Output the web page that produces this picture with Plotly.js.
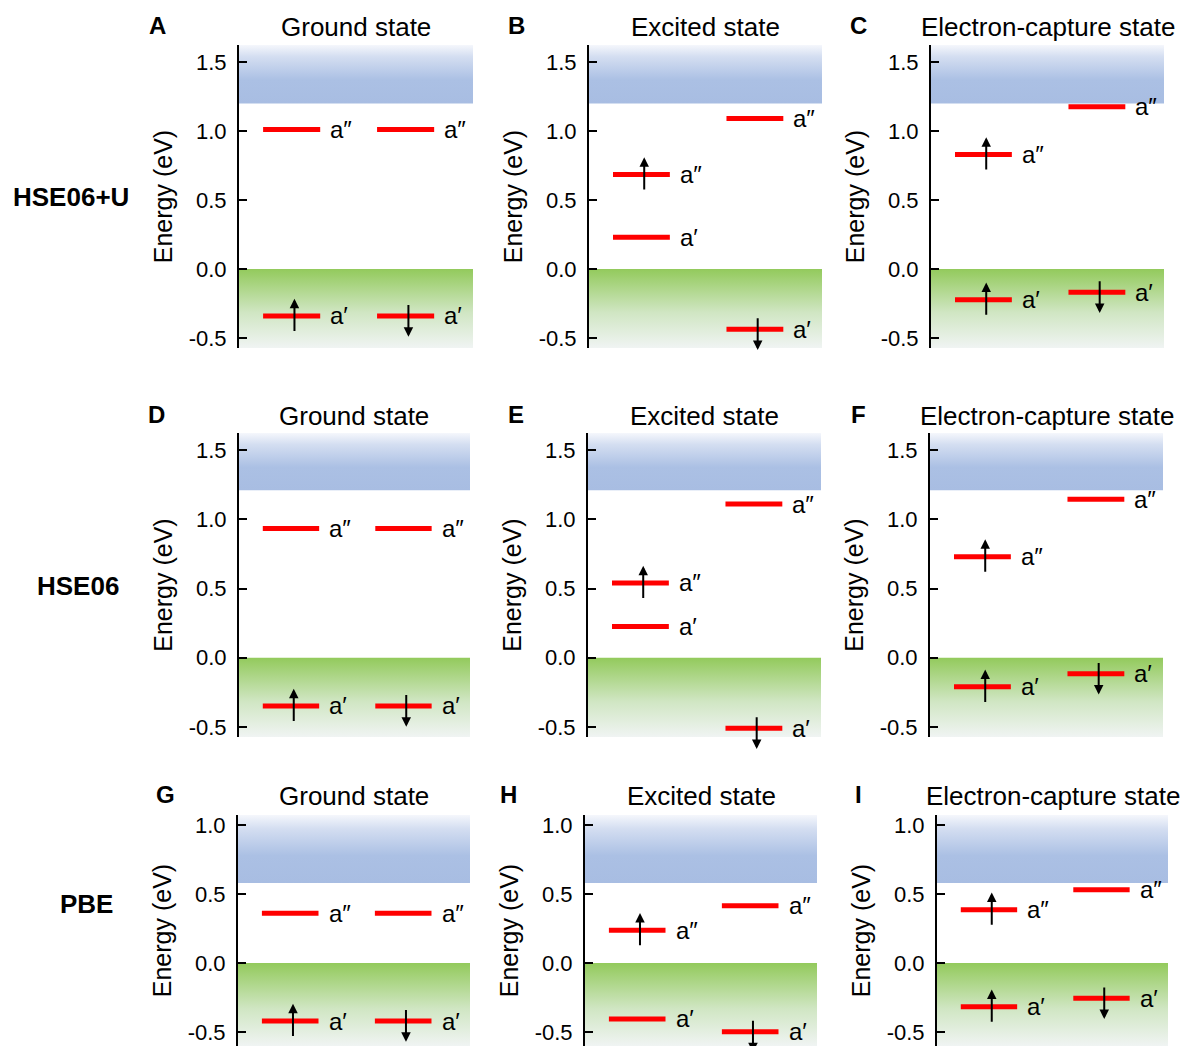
<!DOCTYPE html>
<html>
<head>
<meta charset="utf-8">
<script src="https://cdn.plot.ly/plotly-3.0.1.min.js"></script>
<style>html,body{margin:0;padding:0;background:#fff;}#chart{width:1186px;height:1046px;}</style>
</head>
<body>
<div id="chart"></div>
<script>
// ---------------- data ----------------
const methods = ['HSE06+U', 'HSE06', 'PBE'];
const stateTitles = ['Ground state', 'Excited state', 'Electron-capture state'];
const panelLetters = ['A', 'B', 'C', 'D', 'E', 'F', 'G', 'H', 'I'];

// band edges per method (eV): valence band maximum and conduction band minimum
const vbmEnergy = [0.0, 0.0, 0.0];
const cbmEnergy = [1.20, 1.21, 0.58];

// every panel shows four levels, in this order:
// spin-up channel a'', spin-up channel a', spin-down channel a'', spin-down channel a'
const levelChannel = [0, 0, 1, 1];           // 0 = spin up (left), 1 = spin down (right)
const levelLabel = ['a\u2033', 'a\u2032', 'a\u2033', 'a\u2032'];

// occupation of the four levels for each state
const occupiedGround = [0, 1, 0, 1];
const occupiedExcited = [1, 0, 0, 1];
const occupiedCapture = [1, 1, 0, 1];

// level energies (eV) per panel
const energyA = [1.01, -0.34, 1.01, -0.34];
const energyB = [0.685, 0.231, 1.09, -0.436];
const energyC = [0.83, -0.222, 1.176, -0.168];
const energyD = [0.933, -0.348, 0.933, -0.348];
const energyE = [0.54, 0.225, 1.11, -0.508];
const energyF = [0.73, -0.21, 1.145, -0.116];
const energyG = [0.36, -0.42, 0.36, -0.42];
const energyH = [0.238, -0.405, 0.415, -0.497];
const energyI = [0.386, -0.317, 0.53, -0.256];

// y tick labels
const tickValsHSE = [-0.5, 0, 0.5, 1.0, 1.5];
const tickTextHSE = ['-0.5', '0.0', '0.5', '1.0', '1.5'];
const tickValsPBE = [-0.5, 0, 0.5, 1.0];
const tickTextPBE = ['-0.5', '0.0', '0.5', '1.0'];

// ---------------- layout helpers ----------------
const W = 1186, H = 1046;
const panelEnergies = [energyA, energyB, energyC, energyD, energyE, energyF, energyG, energyH, energyI];
const stateOccupied = [occupiedGround, occupiedExcited, occupiedCapture];

const xDomPx = [[239, 473], [589, 822], [931, 1164], [239, 470], [588, 821], [930, 1163], [238, 470], [585, 817], [937, 1168]];
const rowPx = [[45, 348], [433, 737], [815, 1046]];
const yRanges = [[-0.572, 1.623], [-0.572, 1.623], [-0.601, 1.072]];
const titleYpx = [27, 416, 796];
const letterXpx = [157, 516, 858, 156, 516, 858, 166, 508, 858];
const rowLabelXpx = [71, 78, 86];
const rowLabelYpx = [197, 586, 904];

const chanCenter = [0.225, 0.712];
const halfW = 0.122;
const FONT = 'Liberation Sans, Arial, sans-serif';

const px2x = p => p / W;
const py2y = p => 1 - p / H;

const traces = [];
const annotations = [];
const layout = {
  width: W, height: H,
  margin: {l: 0, r: 0, t: 0, b: 0},
  paper_bgcolor: '#ffffff', plot_bgcolor: 'rgba(0,0,0,0)',
  showlegend: false,
  font: {family: FONT, color: '#000'},
  annotations: annotations
};

for (let k = 0; k < 9; k++) {
  const row = Math.floor(k / 3), col = k % 3;
  const sfx = k === 0 ? '' : String(k + 1);
  const xa = 'x' + sfx, ya = 'y' + sfx;
  const yr = yRanges[row];

  layout['xaxis' + sfx] = {
    domain: [px2x(xDomPx[k][0]), px2x(xDomPx[k][1])],
    range: [0, 1], visible: false, fixedrange: true, anchor: ya
  };
  layout['yaxis' + sfx] = {
    domain: [py2y(rowPx[row][1]), py2y(rowPx[row][0])],
    range: yr, anchor: xa,
    showline: true, linecolor: '#000', linewidth: 2,
    ticks: 'inside', ticklen: 8, tickwidth: 2, tickcolor: '#000',
    tickvals: row === 2 ? tickValsPBE : tickValsHSE,
    ticktext: row === 2 ? tickTextPBE : tickTextHSE,
    tickfont: {family: FONT, size: 22, color: '#000'},
    ticklabelstandoff: 6,
    showgrid: false, zeroline: false, fixedrange: true,
    title: {text: 'Energy (eV)', font: {family: FONT, size: 25, color: '#000'}, standoff: 9}
  };

  // conduction band (blue gradient)
  traces.push({
    type: 'scatter', mode: 'lines', xaxis: xa, yaxis: ya, hoverinfo: 'skip',
    x: [0, 1, 1, 0, 0],
    y: [cbmEnergy[row], cbmEnergy[row], yr[1], yr[1], cbmEnergy[row]],
    fill: 'toself', line: {width: 0, color: 'rgba(0,0,0,0)'},
    fillcolor: '#aabfe3',
    fillgradient: {type: 'vertical', start: cbmEnergy[row], stop: yr[1],
      colorscale: [[0, '#a8bde2'], [0.4, '#abc0e4'], [0.8, '#d4def1'], [1, '#f5f7fc']]}
  });
  // valence band (green gradient)
  traces.push({
    type: 'scatter', mode: 'lines', xaxis: xa, yaxis: ya, hoverinfo: 'skip',
    x: [0, 1, 1, 0, 0],
    y: [yr[0], yr[0], vbmEnergy[row], vbmEnergy[row], yr[0]],
    fill: 'toself', line: {width: 0, color: 'rgba(0,0,0,0)'},
    fillcolor: '#c2dfac',
    fillgradient: {type: 'vertical', start: yr[0], stop: vbmEnergy[row],
      colorscale: [[0, '#f0f4f3'], [0.45, '#d0e6c3'], [1, '#93ca5c']]}
  });

  // defect levels
  const en = panelEnergies[k];
  const occ = stateOccupied[col];
  const lx = [], ly = [];
  for (let i = 0; i < en.length; i++) {
    const c = chanCenter[levelChannel[i]];
    lx.push(c - halfW, c + halfW, null);
    ly.push(en[i], en[i], null);
    annotations.push({
      xref: xa, yref: ya, x: c + halfW + 0.035, y: en[i],
      xanchor: 'left', yanchor: 'middle', showarrow: false,
      text: levelLabel[i], font: {family: FONT, size: 24, color: '#000'}
    });
    if (occ[i]) {
      const ax = c + 0.012;
      const up = levelChannel[i] === 0;
      annotations.push({
        xref: xa, yref: ya, axref: xa, ayref: ya,
        x: ax, y: up ? en[i] + 0.125 : en[i] - 0.15,
        ax: ax, ay: up ? en[i] - 0.12 : en[i] + 0.09,
        showarrow: true, arrowhead: 2, arrowsize: 0.95, arrowwidth: 2,
        arrowcolor: '#000', standoff: 0, startstandoff: 0, text: ''
      });
    }
  }
  traces.push({
    type: 'scatter', mode: 'lines', xaxis: xa, yaxis: ya, hoverinfo: 'skip',
    x: lx, y: ly, line: {color: '#ff0000', width: 5}, connectgaps: false
  });

  // state title and panel letter
  annotations.push({
    xref: 'paper', yref: 'paper',
    x: (px2x(xDomPx[k][0]) + px2x(xDomPx[k][1])) / 2, y: py2y(titleYpx[row]),
    xanchor: 'center', yanchor: 'middle', showarrow: false,
    text: stateTitles[col], font: {family: FONT, size: 26, color: '#000'}
  });
  annotations.push({
    xref: 'paper', yref: 'paper', x: px2x(letterXpx[k]), y: py2y(titleYpx[row] - 2),
    xanchor: 'center', yanchor: 'middle', showarrow: false,
    text: '<b>' + panelLetters[k] + '</b>', font: {family: FONT, size: 24, color: '#000'}
  });
}

for (let r = 0; r < 3; r++) {
  annotations.push({
    xref: 'paper', yref: 'paper', x: px2x(rowLabelXpx[r]), y: py2y(rowLabelYpx[r]),
    xanchor: 'center', yanchor: 'middle', showarrow: false,
    text: '<b>' + methods[r] + '</b>', font: {family: FONT, size: 26, color: '#000'}
  });
}

Plotly.newPlot('chart', traces, layout, {staticPlot: true, displayModeBar: false});
</script>
</body>
</html>
